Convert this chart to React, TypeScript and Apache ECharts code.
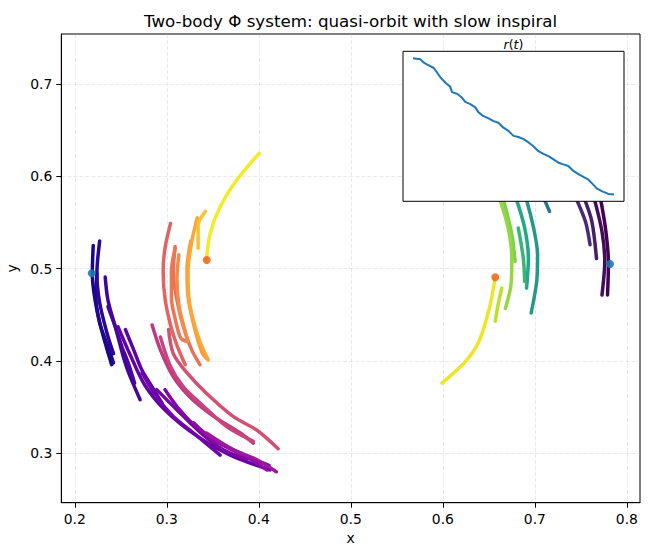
import React, { useEffect, useRef } from 'react';
import * as echarts from 'echarts';

type Pt = [number, number];

// body A (left): arcs, in time order
const leftArcs: Pt[][] = [
  [[0.220, 0.525], [0.219, 0.495], [0.222, 0.466], [0.229, 0.434], [0.240, 0.396]],
  [[0.224, 0.495], [0.223, 0.470], [0.227, 0.441], [0.236, 0.416], [0.242, 0.398]],
  [[0.227, 0.530], [0.224, 0.495], [0.227, 0.463], [0.235, 0.430], [0.242, 0.408]],
  [[0.233, 0.491], [0.236, 0.466], [0.244, 0.437], [0.256, 0.394], [0.271, 0.358]],
  [[0.236, 0.459], [0.244, 0.437], [0.251, 0.416], [0.258, 0.398], [0.265, 0.376]],
  [[0.255, 0.434], [0.264, 0.412], [0.273, 0.390], [0.284, 0.372], [0.295, 0.354]],
  [[0.247, 0.437], [0.260, 0.407], [0.276, 0.374], [0.298, 0.347], [0.331, 0.320], [0.369, 0.298], [0.412, 0.282]],
  [[0.273, 0.387], [0.289, 0.361], [0.307, 0.340], [0.329, 0.322], [0.358, 0.298]],
  [[0.289, 0.369], [0.311, 0.347], [0.336, 0.323], [0.361, 0.304], [0.387, 0.293]],
  [[0.298, 0.369], [0.314, 0.347], [0.336, 0.325], [0.365, 0.307], [0.390, 0.295], [0.411, 0.287]],
  [[0.329, 0.333], [0.351, 0.314], [0.380, 0.300], [0.409, 0.282]],
  [[0.343, 0.322], [0.372, 0.304], [0.398, 0.293], [0.419, 0.280]],
  [[0.284, 0.439], [0.293, 0.412], [0.307, 0.383], [0.325, 0.361], [0.351, 0.340], [0.380, 0.322], [0.394, 0.311]],
  [[0.293, 0.426], [0.304, 0.394], [0.318, 0.372], [0.340, 0.351], [0.365, 0.329], [0.394, 0.313]],
  [[0.302, 0.434], [0.307, 0.408], [0.322, 0.387], [0.343, 0.365], [0.372, 0.340], [0.398, 0.325], [0.421, 0.305]],
  [[0.304, 0.549], [0.298, 0.522], [0.296, 0.497], [0.298, 0.468], [0.304, 0.439], [0.311, 0.417], [0.320, 0.396]],
  [[0.309, 0.524], [0.307, 0.495], [0.311, 0.466], [0.318, 0.437], [0.327, 0.412], [0.336, 0.396]],
  [[0.309, 0.522], [0.305, 0.497], [0.305, 0.468], [0.309, 0.446], [0.315, 0.425], [0.322, 0.421]],
  [[0.313, 0.515], [0.311, 0.490], [0.313, 0.461], [0.318, 0.439], [0.323, 0.421]],
  [[0.326, 0.530], [0.322, 0.500], [0.323, 0.470], [0.329, 0.440], [0.338, 0.410], [0.343, 0.403]],
  [[0.333, 0.555], [0.327, 0.529], [0.323, 0.497], [0.324, 0.468], [0.329, 0.443], [0.336, 0.421], [0.345, 0.401]],
  [[0.342, 0.562], [0.334, 0.547], [0.334, 0.522]],
  [[0.4005, 0.625], [0.376, 0.596], [0.358, 0.567], [0.347, 0.538], [0.343, 0.509]],
];
const leftArcTimes = [0.02, 0.04, 0.06, 0.1, 0.12, 0.16, 0.18, 0.22, 0.24, 0.26, 0.3, 0.34, 0.45, 0.49, 0.53,
  0.6, 0.64, 0.66, 0.72, 0.76, 0.8, 0.87, 0.97];

// body B (right): visible arcs below the inset
const rightArcs: Pt[][] = [
  [[0.771, 0.578], [0.777, 0.542], [0.780, 0.506], [0.779, 0.4715]],
  [[0.764, 0.578], [0.773, 0.540], [0.776, 0.508], [0.773, 0.4715]],
  [[0.753, 0.578], [0.762, 0.551], [0.767, 0.511]],
  [[0.744, 0.578], [0.755, 0.551], [0.760, 0.526]],
  [[0.709, 0.578], [0.716, 0.562]],
  [[0.690, 0.578], [0.698, 0.547], [0.703, 0.515], [0.702, 0.486], [0.696, 0.452]],
  [[0.679, 0.578], [0.689, 0.544], [0.693, 0.511], [0.691, 0.479]],
  [[0.682, 0.544], [0.6875, 0.511], [0.689, 0.486]],
  [[0.665, 0.578], [0.675, 0.537], [0.6785, 0.508]],
  [[0.661, 0.578], [0.671, 0.544], [0.675, 0.511], [0.674, 0.482], [0.668, 0.457]],
  [[0.664, 0.479], [0.660, 0.461], [0.657, 0.443]],
  [[0.599, 0.376], [0.626, 0.401], [0.640, 0.423], [0.651, 0.459], [0.657, 0.491]],
];
const rightArcTimes = [0.0, 0.03, 0.08, 0.12, 0.38, 0.54, 0.6, 0.66, 0.8, 0.84, 0.9, 0.98];

const startPoints: Pt[] = [[0.2184, 0.495], [0.7817, 0.505]];
const endPoints: Pt[] = [[0.3434, 0.5094], [0.657, 0.4907]];

// inset r(t)
const insetT = [0, 0.036, 0.053, 0.078, 0.103, 0.119, 0.136, 0.161, 0.185, 0.194, 0.219, 0.243, 0.26, 0.285, 0.31,
  0.326, 0.351, 0.376, 0.401, 0.425, 0.45, 0.475, 0.5, 0.525, 0.55, 0.575, 0.599, 0.624, 0.649, 0.674, 0.699,
  0.724, 0.748, 0.773, 0.798, 0.823, 0.848, 0.873, 0.897, 0.914, 0.939, 0.972, 1.0];
const insetR = [0.563, 0.561, 0.555, 0.55, 0.545, 0.537, 0.528, 0.518, 0.511, 0.501, 0.498, 0.491, 0.483, 0.479,
  0.473, 0.464, 0.457, 0.453, 0.448, 0.445, 0.436, 0.43, 0.421, 0.419, 0.415, 0.409, 0.402, 0.393, 0.388, 0.384,
  0.378, 0.372, 0.369, 0.366, 0.357, 0.351, 0.346, 0.341, 0.332, 0.325, 0.32, 0.315, 0.314];

const xTicks = [0.2, 0.3, 0.4, 0.5, 0.6, 0.7, 0.8];
const yTicks = [0.3, 0.4, 0.5, 0.6, 0.7];

const PLASMA = ['#0d0887', '#41049d', '#6a00a8', '#8f0da4', '#b12a90', '#cc4778', '#e16462', '#f2844b', '#fca636', '#fcce25', '#f0f921'];
const VIRIDIS = ['#440154', '#482475', '#414487', '#355f8d', '#2a788e', '#21918c', '#22a884', '#44bf70', '#7ad151', '#bddf26', '#fde725'];

const hexRgb = (h: string) => [1, 3, 5].map((i) => parseInt(h.slice(i, i + 2), 16));
const cmap = (stops: string[], t: number) => {
  const p = Math.min(Math.max(t, 0), 1) * (stops.length - 1);
  const i = Math.min(Math.floor(p), stops.length - 2);
  const f = p - i;
  const a = hexRgb(stops[i]);
  const b = hexRgb(stops[i + 1]);
  const c = a.map((v, k) => Math.round(v + (b[k] - v) * f));
  return `rgb(${c[0]},${c[1]},${c[2]})`;
};

const FONT = 'DejaVu Sans';

const App: React.FC = () => {
  const chartRef = useRef<HTMLDivElement>(null);

  useEffect(() => {
    if (!chartRef.current) return;
    const chart = echarts.init(chartRef.current, undefined, { renderer: 'svg' });

    const arcSeries = (arcs: Pt[][], times: number[], stops: string[]) =>
      arcs.map((pts, i) => ({
        type: 'line',
        xAxisIndex: 0,
        yAxisIndex: 0,
        data: pts,
        symbol: 'none',
        smooth: 0.3,
        silent: true,
        z: 2,
        lineStyle: { color: cmap(stops, times[i]), width: 3.5, cap: 'round', join: 'round' },
      }));

    const option = {
      animation: false,
      textStyle: { fontFamily: FONT },
      graphic: [
        {
          type: 'text',
          x: 350.6,
          y: 12,
          style: {
            text: 'Two-body Φ system: quasi-orbit with slow inspiral',
            textAlign: 'center',
            textVerticalAlign: 'top',
            fontSize: 16.7,
            fontFamily: FONT,
            fill: '#000',
          },
        },
        {
          type: 'text',
          x: 513.5,
          y: 44,
          z: 20,
          style: {
            text: '{i|r}({i|t})',
            rich: { i: { fontStyle: 'italic', fontSize: 12.5, fontFamily: FONT } },
            textAlign: 'center',
            textVerticalAlign: 'middle',
            fontSize: 12.5,
            fontFamily: FONT,
            fill: '#000',
          },
        },
      ],
      grid: [
        {
          left: 61.3,
          top: 34,
          width: 578.7,
          height: 468.7,
          show: true,
          borderColor: '#000',
          borderWidth: 1,
          outerBoundsMode: 'none',
        },
        {
          left: 403,
          top: 51.3,
          width: 221,
          height: 150,
          show: true,
          backgroundColor: '#fff',
          borderColor: '#000',
          borderWidth: 1,
          z: 10,
          outerBoundsMode: 'none',
        },
      ],
      xAxis: [
        {
          type: 'value',
          gridIndex: 0,
          min: 0.1853,
          max: 0.8143,
          name: 'x',
          nameLocation: 'middle',
          nameGap: 26,
          nameTextStyle: { fontSize: 13.9, color: '#000', fontFamily: FONT },
          axisLine: { show: true, onZero: false, lineStyle: { color: '#000', width: 1 } },
          axisTick: { show: true, length: 5, customValues: xTicks, lineStyle: { color: '#000' } },
          axisLabel: {
            customValues: xTicks,
            margin: 9,
            fontSize: 13.9,
            color: '#000',
            fontFamily: FONT,
            formatter: (v: number) => v.toFixed(1),
          },
          splitLine: { show: true, lineStyle: { color: 'rgba(176,176,176,0.35)', type: [4, 2], width: 0.8 } },
        },
        { type: 'value', gridIndex: 1, min: -0.05, max: 1.05, show: false },
      ],
      yAxis: [
        {
          type: 'value',
          gridIndex: 0,
          min: 0.2465,
          max: 0.7542,
          name: 'y',
          nameLocation: 'middle',
          nameGap: 38,
          nameTextStyle: { fontSize: 13.9, color: '#000', fontFamily: FONT },
          axisLine: { show: true, onZero: false, lineStyle: { color: '#000', width: 1 } },
          axisTick: { show: true, length: 5, customValues: yTicks, lineStyle: { color: '#000' } },
          axisLabel: {
            customValues: yTicks,
            margin: 9,
            fontSize: 13.9,
            color: '#000',
            fontFamily: FONT,
            formatter: (v: number) => v.toFixed(1),
          },
          splitLine: { show: true, lineStyle: { color: 'rgba(176,176,176,0.35)', type: [4, 2], width: 0.8 } },
        },
        { type: 'value', gridIndex: 1, min: 0.3015, max: 0.5755, show: false },
      ],
      series: [
        ...arcSeries(leftArcs, leftArcTimes, PLASMA),
        ...arcSeries(rightArcs, rightArcTimes, VIRIDIS),
        {
          type: 'scatter',
          xAxisIndex: 0,
          yAxisIndex: 0,
          data: startPoints,
          symbolSize: 8,
          z: 4,
          itemStyle: { color: '#1f77b4', opacity: 0.9 },
        },
        {
          type: 'scatter',
          xAxisIndex: 0,
          yAxisIndex: 0,
          data: endPoints,
          symbolSize: 8,
          z: 4,
          itemStyle: { color: '#f26b1d', opacity: 0.9 },
        },
        {
          type: 'line',
          xAxisIndex: 1,
          yAxisIndex: 1,
          data: insetT.map((t, i) => [t, insetR[i]]),
          symbol: 'none',
          z: 12,
          lineStyle: { color: '#1f77b4', width: 2 },
        },
      ],
    };

    chart.setOption(option as any);

    return () => {
      chart.dispose();
    };
  }, []);

  return (
    <div
      ref={chartRef}
      style={{ position: 'fixed', left: 0, top: 0, width: '650px', height: '556px', background: '#fff' }}
    />
  );
};

export default App;
